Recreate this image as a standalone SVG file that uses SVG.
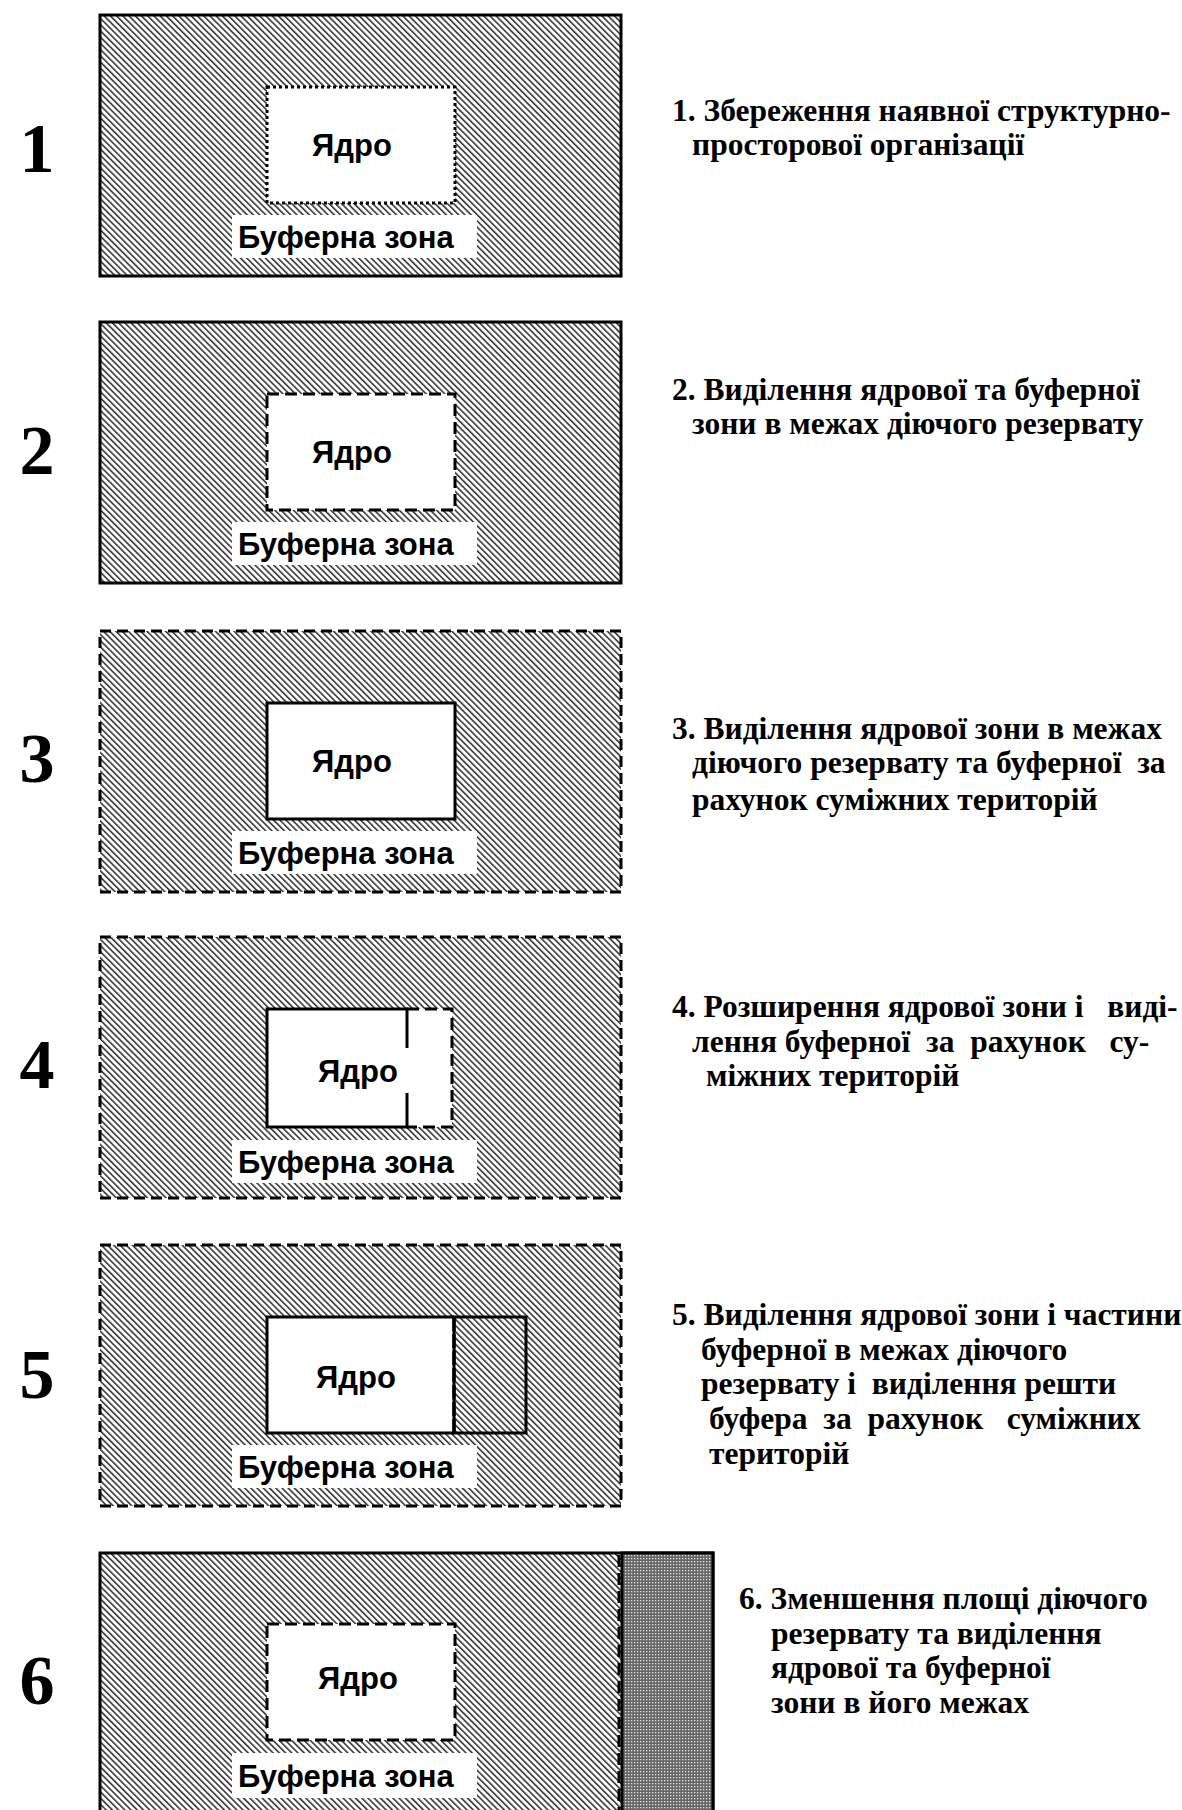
<svg xmlns="http://www.w3.org/2000/svg" width="1182" height="1810" viewBox="0 0 1182 1810">
<style>
.num{font-family:"Liberation Serif","Times New Roman",serif;font-weight:bold;font-size:70px;fill:#000;text-anchor:middle}
.desc{font-family:"Liberation Serif","Times New Roman",serif;font-weight:bold;font-size:31.5px;fill:#000}
.lbl{font-family:"Liberation Sans",Arial,sans-serif;font-weight:bold;font-size:31px;fill:#000}
.core-t{font-family:"Liberation Sans",Arial,sans-serif;font-weight:bold;font-size:31px;fill:#000;text-anchor:middle}
.outer{fill:url(#hatch);stroke:#000;stroke-width:3}
.outer-d{fill:url(#hatch);stroke:#000;stroke-width:3;stroke-dasharray:11 6}
.core{fill:#fff;stroke:#000;stroke-width:3}
.core-dot{fill:#fff;stroke:#000;stroke-width:3;stroke-dasharray:3 3}
.core-dash{fill:#fff;stroke:#000;stroke-width:3;stroke-dasharray:12 6}
.bg{fill:#fff}
</style>
<defs>
<pattern id="hatch" width="4.4" height="10" patternUnits="userSpaceOnUse" patternTransform="rotate(-45)">
<rect width="4.4" height="10" fill="#fff"/>
<rect x="0" y="0" width="1.5" height="10" fill="#2a2a2a"/>
</pattern>
<pattern id="dots" width="3" height="3" patternUnits="userSpaceOnUse">
<rect width="3" height="3" fill="#666"/>
<rect x="1" y="1" width="1.3" height="1.3" fill="#e6e6e6"/>
</pattern>
</defs>
<rect width="1182" height="1810" fill="#fff"/>

<g id="panel1">
<text class="num" x="37" y="172">1</text>
<rect class="outer" x="100" y="15" width="521" height="261"/>
<rect class="core-dot" x="267" y="87" width="188" height="116"/>
<text class="core-t" x="352" y="156">Ядро</text>
<rect class="bg" x="232" y="215" width="245" height="43"/>
<text class="lbl" x="238" y="248">Буферна зона</text>
<text class="desc" x="672" y="121">1. Збереження наявної структурно-</text>
<text class="desc" x="692" y="155">просторової організації</text>
</g>

<g id="panel2">
<text class="num" x="37" y="474">2</text>
<rect class="outer" x="100" y="322" width="521" height="261"/>
<rect class="core-dash" x="267" y="394" width="188" height="116"/>
<text class="core-t" x="352" y="463">Ядро</text>
<rect class="bg" x="232" y="522" width="245" height="43"/>
<text class="lbl" x="238" y="555">Буферна зона</text>
<text class="desc" x="672" y="400">2. Виділення ядрової та буферної</text>
<text class="desc" x="692" y="434">зони в межах діючого резервату</text>
</g>

<g id="panel3">
<text class="num" x="37" y="782">3</text>
<rect class="outer-d" x="100" y="631" width="521" height="261"/>
<rect class="core" x="267" y="703" width="188" height="116"/>
<text class="core-t" x="352" y="772">Ядро</text>
<rect class="bg" x="232" y="831" width="245" height="43"/>
<text class="lbl" x="238" y="864">Буферна зона</text>
<text class="desc" x="672" y="739">3. Виділення ядрової зони в межах</text>
<text class="desc" x="692" y="773" xml:space="preserve">діючого резервату та буферної  за</text>
<text class="desc" x="692" y="810">рахунок суміжних територій</text>
</g>

<g id="panel4">
<text class="num" x="37" y="1088">4</text>
<rect class="outer-d" x="100" y="937" width="521" height="261"/>
<rect x="267" y="1009" width="185" height="118" fill="#fff"/>
<path d="M407 1009 H452 V1127 H407" fill="none" stroke="#000" stroke-width="3" stroke-dasharray="12 6"/>
<path d="M407 1048 V1009 H267 V1127 H407 V1093" fill="none" stroke="#000" stroke-width="3"/>
<text class="core-t" x="358" y="1082">Ядро</text>
<rect class="bg" x="232" y="1140" width="245" height="43"/>
<text class="lbl" x="238" y="1173">Буферна зона</text>
<text class="desc" x="672" y="1017" xml:space="preserve">4. Розширення ядрової зони і   виді-</text>
<text class="desc" x="692" y="1052" xml:space="preserve">лення буферної  за  рахунок   су-</text>
<text class="desc" x="706" y="1086">міжних територій</text>
</g>

<g id="panel5">
<text class="num" x="37" y="1398">5</text>
<rect class="outer-d" x="100" y="1245" width="521" height="261"/>
<rect x="267" y="1317" width="187" height="116" fill="#fff"/>
<rect x="454" y="1317" width="72" height="116" fill="url(#hatch)" stroke="#000" stroke-width="3"/>
<path d="M454 1317 H267 V1433 H454" fill="none" stroke="#000" stroke-width="3"/>
<line x1="454" y1="1317" x2="454" y2="1433" stroke="#000" stroke-width="3.5" stroke-dasharray="14 3"/>
<text class="core-t" x="356" y="1388">Ядро</text>
<rect class="bg" x="232" y="1445" width="245" height="43"/>
<text class="lbl" x="238" y="1478">Буферна зона</text>
<text class="desc" x="672" y="1325">5. Виділення ядрової зони і частини</text>
<text class="desc" x="701" y="1360">буферної в межах діючого</text>
<text class="desc" x="701" y="1394" xml:space="preserve">резервату і  виділення решти</text>
<text class="desc" x="709" y="1429" xml:space="preserve">буфера  за  рахунок   суміжних</text>
<text class="desc" x="709" y="1464">територій</text>
</g>

<g id="panel6">
<text class="num" x="37" y="1704">6</text>
<rect x="100" y="1553" width="613" height="270" fill="url(#hatch)" stroke="#000" stroke-width="3"/>
<rect x="622" y="1553" width="91" height="270" fill="url(#dots)" stroke="#000" stroke-width="3"/>
<line x1="619" y1="1555" x2="619" y2="1810" stroke="#000" stroke-width="3" stroke-dasharray="12 6"/>
<rect class="core-dash" x="267" y="1624" width="188" height="116"/>
<text class="core-t" x="358" y="1689">Ядро</text>
<rect class="bg" x="232" y="1753" width="245" height="45"/>
<text class="lbl" x="238" y="1787">Буферна зона</text>
<text class="desc" x="739" y="1609">6. Зменшення площі діючого</text>
<text class="desc" x="771" y="1644">резервату та виділення</text>
<text class="desc" x="771" y="1678">ядрової та буферної</text>
<text class="desc" x="771" y="1713">зони в його межах</text>
</g>
</svg>
